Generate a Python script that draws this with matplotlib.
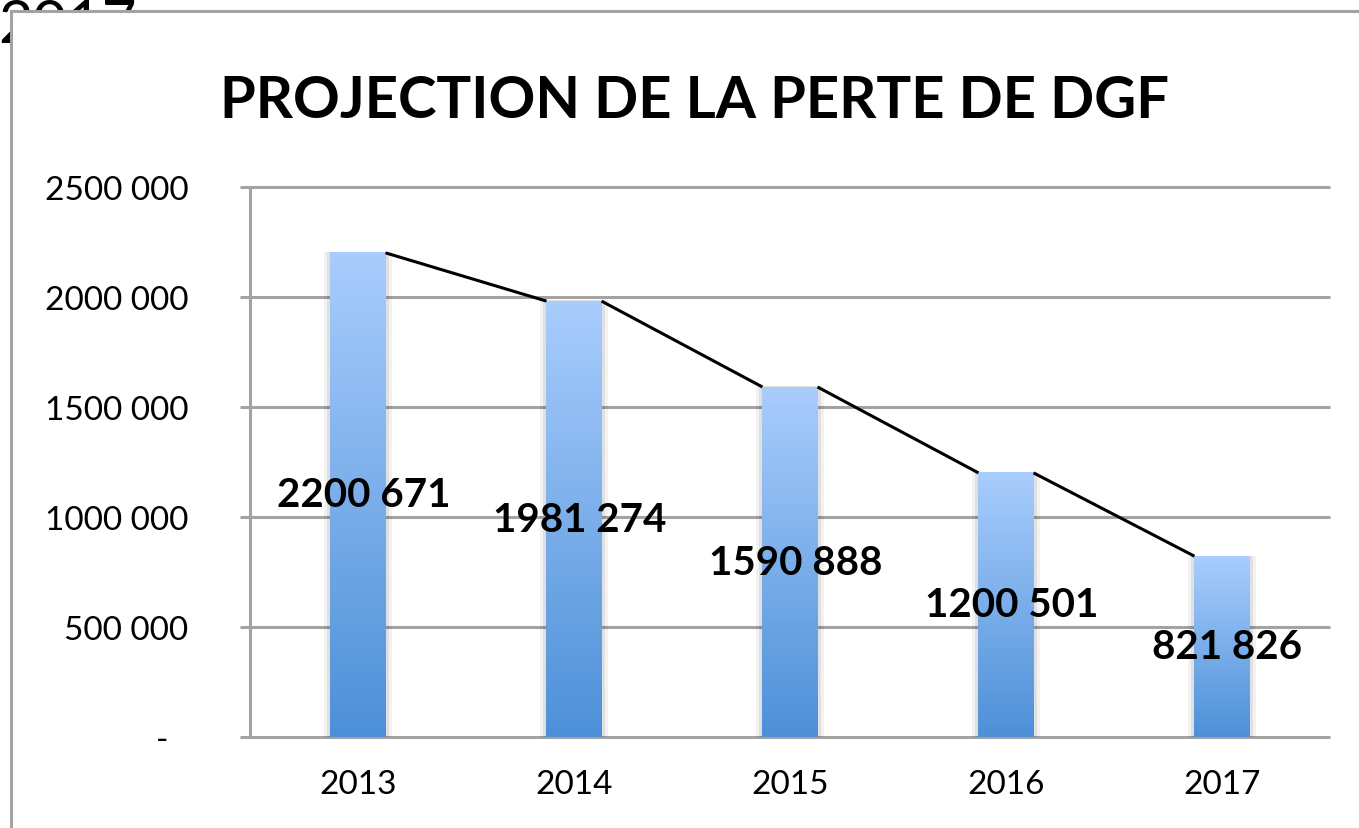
import matplotlib.pyplot as plt
import numpy as np
from matplotlib.colors import LinearSegmentedColormap
from matplotlib.patches import Rectangle
from matplotlib.transforms import ScaledTranslation

plt.rcParams["font.family"] = ["Lato", "DejaVu Sans"]

# data
years = ["2013", "2014", "2015", "2016", "2017"]
loss = [2200671, 1981274, 1590888, 1200501, 821826]
value_labels = ["2200 671", "1981 274", "1590 888", "1200 501", "821 826"]
y_ticks = [0, 500000, 1000000, 1500000, 2000000, 2500000]
y_tick_labels = ["-", "500 000", "1000 000", "1500 000", "2000 000", "2500 000"]

W, H = 1359, 829
grey = "#a3a3a3"

fig = plt.figure(figsize=(W / 100, H / 100), dpi=100)

# cropped text behind the chart frame (as in the source screenshot)
fig.text(-2 / W, 1 - 43 / H, "2017", fontsize=43, ha="left", va="baseline",
         color="black", zorder=0.5)
frame = Rectangle((11 / W, -0.1), 1.2, 1.1 - 12 / H, transform=fig.transFigure,
                  facecolor="white", edgecolor=grey, linewidth=2.2, zorder=1)
fig.add_artist(frame)

fig.text(695 / W, 1 - 118 / H, "PROJECTION DE LA PERTE DE DGF", fontsize=41.8,
         fontweight="bold", ha="center", va="baseline", zorder=3)

ax = fig.add_axes([250 / W, 1 - 738 / H, 1080 / W, 550 / H])
ax.set_zorder(2)
ax.patch.set_alpha(0)

x = np.arange(len(years))
bars = ax.bar(x, loss, width=0.255, color="none", zorder=3)

cmap = LinearSegmentedColormap.from_list("bar", ["#4d90d8", "#a9cdfd"])
grad = np.linspace(0, 1, 256).reshape(-1, 1)
for b in bars:
    x0, w, h = b.get_x(), b.get_width(), b.get_height()
    # soft shadow
    for k, a in [(0.03, 0.05), (0.018, 0.07)]:
        ax.add_patch(Rectangle((x0 - k, 0), w + 2 * k, h + 3000, facecolor="black",
                               alpha=a, linewidth=0, zorder=2))
    ax.imshow(grad, extent=(x0, x0 + w, 0, h), origin="lower", cmap=cmap,
              aspect="auto", zorder=3)

# connecting line from each bar's top-right to the next bar's top-left
for b0, b1 in zip(bars[:-1], bars[1:]):
    ax.plot([b0.get_x() + b0.get_width(), b1.get_x()],
            [b0.get_height(), b1.get_height()], color="black", lw=2.2, zorder=4,
            solid_capstyle="butt")

for xi, v, lab in zip(x, loss, value_labels):
    ax.text(xi + 0.025, v / 2, lab, ha="center", va="center", fontsize=29,
            fontweight="bold", zorder=5)

ax.set_xlim(-0.5, len(years) - 0.5)
ax.set_ylim(0, 2500000)
ax.hlines(y_ticks, -0.5, len(years) - 0.5, color=grey, lw=2.2, zorder=1, clip_on=False)

ax.set_yticks(y_ticks)
ax.set_yticklabels(y_tick_labels)
ax.set_xticks(x)
ax.set_xticklabels(years)
ax.tick_params(axis="y", length=7.2, width=2.2, color=grey, pad=37, labelsize=24)
ax.tick_params(axis="x", length=0, pad=23, labelsize=24)
zero_label = ax.get_yticklabels()[0]
zero_label.set_transform(zero_label.get_transform()
                         + ScaledTranslation(-20 / 100, 0, fig.dpi_scale_trans))

for side in ["top", "right", "bottom"]:
    ax.spines[side].set_visible(False)
ax.spines["left"].set_color(grey)
ax.spines["left"].set_linewidth(2.2)

fig.savefig("out.png", dpi=100)
